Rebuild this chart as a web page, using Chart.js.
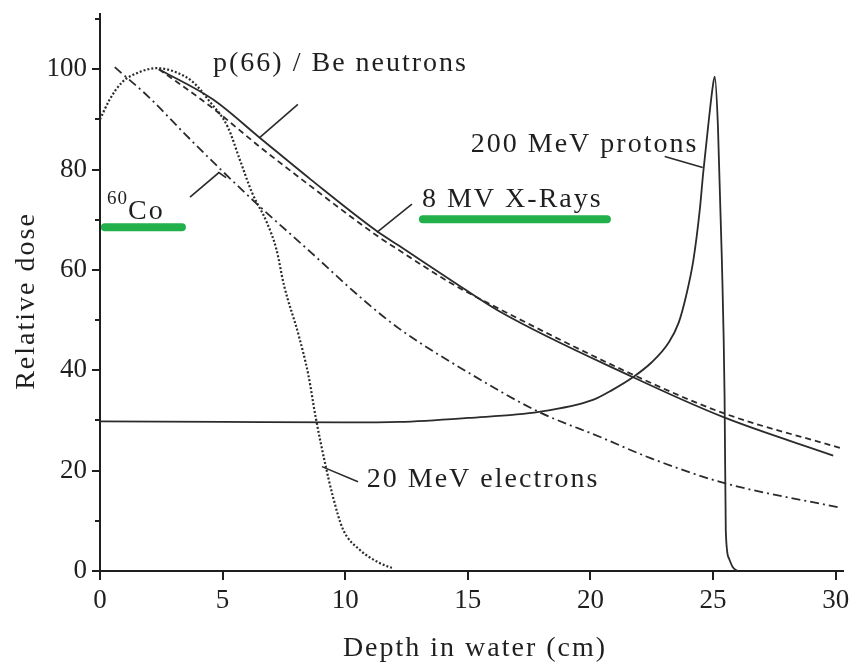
<!DOCTYPE html>
<html>
<head>
<meta charset="utf-8">
<script src="https://cdn.jsdelivr.net/npm/chart.js@4.4.1/dist/chart.umd.min.js"></script>
<style>
  html, body { margin: 0; padding: 0; background: #fff; }
  #wrap { width: 854px; height: 665px; }
</style>
</head>
<body>
<div id="wrap"><canvas id="doseChart"></canvas></div>
<script>
// depth-dose curves (depth in cm, relative dose in %)
const neutronDepth = [2.4, 4.6, 6.5, 8.6, 11.3, 12.2, 14.3, 16.3, 21.7, 25.4, 29.9];
const neutronDose  = [100, 94, 86.4, 78, 67.7, 64.8, 58.0, 51.7, 38.7, 30.7, 23];

const xrayDepth = [2.4, 4.5, 6.5, 8.4, 11.3, 12.2, 14.3, 15.9, 21.7, 25.4, 30.2];
const xrayDose  = [100, 92.6, 84.6, 77.4, 66.8, 63.9, 57.4, 53.2, 39.2, 31.5, 24.5];

const cobaltDepth = [0.6, 2.0, 3.4, 4.8, 6.5, 8.6, 10.7, 12.2, 15.0, 17.9, 20.4, 22.5, 25.4, 30.2];
const cobaltDose  = [100.4, 94.4, 87.4, 80.6, 72.7, 63.5, 54.2, 48.3, 39.6, 31.7, 26.7, 22.4, 17.6, 12.6];

const electronDepth = [0, 0.4, 0.9, 1.6, 2.3, 3.1, 3.8, 4.5, 5.2, 5.7, 6.2, 6.8, 7.2, 7.5, 8.1, 8.5, 8.8, 9.2, 9.5, 9.9, 10.6, 11.4, 11.9];
const electronDose  = [90, 94, 97.4, 99.4, 100.2, 99.4, 97.4, 93.4, 88.6, 82, 75.4, 69.5, 64, 57, 47, 39, 30.5, 21, 14.8, 8.4, 4.2, 1.6, 0.6];

const protonDepth = [0, 5, 10, 12.2, 15, 17.9, 20.1, 20.9, 21.7, 22.5, 23.2, 23.6, 23.9, 24.2, 24.46, 24.6, 24.8, 24.99, 25.07, 25.2, 25.36, 25.47, 25.52, 25.65, 25.8, 26.0];
const protonDose  = [29.8, 29.7, 29.6, 29.7, 30.5, 31.7, 34.1, 36.1, 38.5, 41.6, 45.6, 49.5, 54.8, 62, 72, 79.4, 88.6, 96.6, 98.5, 88.6, 62, 35, 8, 2.5, 0.8, 0];

const depthTicks = [0, 5, 10, 15, 20, 25, 30];
const doseTicks = [0, 20, 40, 60, 80, 100];

const serif = "'Liberation Serif', 'Times New Roman', serif";
const ink = "#1f1f1f";

const toPoints = (xs, ys) => xs.map((x, i) => ({ x: x, y: ys[i] }));

// curve labels, leader lines and the green marker strokes (data coords)
const labels = [
  { text: "p(66) / Be neutrons", x: 4.61, y: 99.6 },
  { text: "200 MeV protons", x: 15.12, y: 83.4 },
  { text: "8 MV X-Rays", x: 13.13, y: 72.5 },
  { text: "Co", x: 1.14, y: 70.1 },
  { text: "20 MeV electrons", x: 10.88, y: 16.8 },
];
const pointers = [
  [[6.52, 86.4], [8.07, 93.0]],
  [[11.29, 67.5], [12.72, 73.1]],
  [[3.67, 74.5], [4.85, 79.4], [5.14, 78.4]],
  [[23.03, 82.6], [24.58, 80.4]],
  [[9.05, 20.8], [10.52, 17.8]],
];
const highlights = [
  { from: 0.2, to: 3.34, y: 68.5 },
  { from: 13.17, to: 20.67, y: 70.1 },
];

const annotate = {
  id: "annotate",
  afterDraw(c) {
    const { ctx, chartArea: area } = c;
    const x = c.scales.x, y = c.scales.y;
    ctx.save();

    // tick marks
    ctx.strokeStyle = ink;
    ctx.lineWidth = 2;
    for (let v = 0; v <= 110; v += 10) {
      const py = Math.round(y.getPixelForValue(v));
      const len = v % 20 === 0 ? 8 : 5;
      ctx.beginPath(); ctx.moveTo(area.left - len, py); ctx.lineTo(area.left, py); ctx.stroke();
    }
    depthTicks.forEach(v => {
      const px = Math.round(x.getPixelForValue(v));
      ctx.beginPath(); ctx.moveTo(px, area.bottom); ctx.lineTo(px, area.bottom + 9); ctx.stroke();
    });

    // green marker strokes
    ctx.strokeStyle = "#22b04b";
    ctx.lineWidth = 8;
    ctx.lineCap = "round";
    highlights.forEach(h => {
      const py = y.getPixelForValue(h.y);
      ctx.beginPath();
      ctx.moveTo(x.getPixelForValue(h.from), py);
      ctx.lineTo(x.getPixelForValue(h.to), py);
      ctx.stroke();
    });

    // leader lines
    ctx.strokeStyle = "#2a2a2a";
    ctx.lineWidth = 1.6;
    ctx.lineCap = "butt";
    pointers.forEach(p => {
      ctx.beginPath();
      p.forEach(([a, b], i) => {
        const px = x.getPixelForValue(a), py = y.getPixelForValue(b);
        i ? ctx.lineTo(px, py) : ctx.moveTo(px, py);
      });
      ctx.stroke();
    });

    // text
    ctx.fillStyle = ink;
    ctx.textBaseline = "alphabetic";
    ctx.textAlign = "left";
    ctx.letterSpacing = "2px";
    ctx.font = "28px " + serif;
    labels.forEach(l => ctx.fillText(l.text, x.getPixelForValue(l.x), y.getPixelForValue(l.y)));
    ctx.font = "19px " + serif;
    ctx.letterSpacing = "1px";
    ctx.fillText("60", x.getPixelForValue(0.29), y.getPixelForValue(73.05));

    // axis titles
    ctx.font = "28px " + serif;
    ctx.letterSpacing = "2px";
    ctx.textAlign = "center";
    ctx.fillText("Depth in water (cm)", 475, 656);
    ctx.translate(34, 301);
    ctx.rotate(-Math.PI / 2);
    ctx.fillText("Relative dose", 0, 0);
    ctx.restore();
  }
};

const lineSet = (label, xs, ys, dash, width) => ({
  label: label,
  data: toPoints(xs, ys),
  showLine: true,
  borderColor: "#2b2b2b",
  borderWidth: width,
  borderDash: dash,
  pointRadius: 0,
  cubicInterpolationMode: "monotone",
  fill: false,
});

new Chart(document.getElementById("doseChart"), {
  type: "scatter",
  data: {
    datasets: [
      lineSet("p(66) / Be neutrons", neutronDepth, neutronDose, [], 1.8),
      lineSet("8 MV X-Rays", xrayDepth, xrayDose, [6, 4], 1.8),
      lineSet("60Co", cobaltDepth, cobaltDose, [9, 4, 2, 4], 1.8),
      lineSet("20 MeV electrons", electronDepth, electronDose, [2, 2], 2.2),
      lineSet("200 MeV protons", protonDepth, protonDose, [], 1.8),
    ],
  },
  options: {
    responsive: true,
    maintainAspectRatio: false,
    animation: false,
    layout: { padding: { left: 0, right: 11, top: 14, bottom: 0 } },
    plugins: { legend: { display: false }, tooltip: { enabled: false } },
    scales: {
      x: {
        type: "linear",
        min: 0,
        max: 30.3,
        afterBuildTicks: s => { s.ticks = depthTicks.map(v => ({ value: v })); },
        afterFit: s => { s.height = 94; s.paddingLeft = 0; s.paddingRight = 0; },
        grid: { display: false, drawTicks: false },
        border: { display: true, color: ink, width: 2 },
        ticks: { color: ink, padding: 14, maxRotation: 0, font: { family: serif, size: 27 } },
      },
      y: {
        type: "linear",
        min: 0,
        max: 111,
        afterBuildTicks: s => { s.ticks = doseTicks.map(v => ({ value: v })); },
        afterFit: s => { s.width = 100; s.paddingTop = 0; s.paddingBottom = 0; },
        grid: { display: false, drawTicks: false },
        border: { display: true, color: ink, width: 2 },
        ticks: { color: ink, padding: 13, font: { family: serif, size: 27 } },
      },
    },
  },
  plugins: [annotate],
});
</script>
</body>
</html>
